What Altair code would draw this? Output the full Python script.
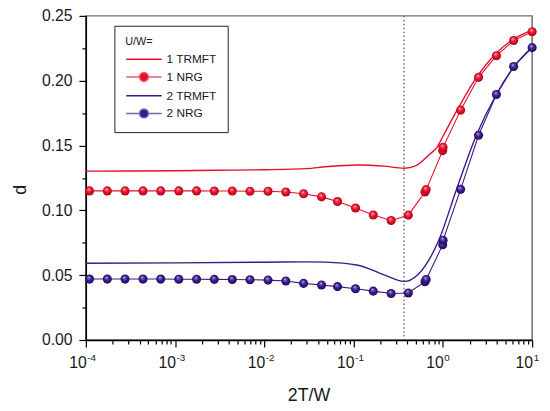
import altair as alt
import pandas as pd

# ---------------- data ----------------
series_names = ["1 TRMFT", "1 NRG", "2 TRMFT", "2 NRG"]

t_trmft_1 = [1e-4, 3e-4, 1e-3, 3e-3, 1e-2, 3e-2, 0.048, 0.112, 0.22, 0.367,
             0.50, 0.72, 0.86, 1.0, 1.48, 2.37, 3.94, 6.0, 10.0]
d_trmft_1 = [0.1303, 0.1304, 0.1306, 0.1309, 0.1313, 0.1322, 0.1336, 0.1350,
             0.1341, 0.1325, 0.1345, 0.1436, 0.1486, 0.1570, 0.1786, 0.2023,
             0.2210, 0.2315, 0.2390]

t_trmft_2 = [1e-4, 1e-3, 1e-2, 3e-2, 0.048, 0.112, 0.22, 0.367, 0.52, 0.89,
             1.42, 2.37, 3.94, 6.3, 10.0]
d_trmft_2 = [0.0592, 0.0595, 0.0600, 0.0603, 0.0601, 0.0577, 0.0502, 0.0452,
             0.0502, 0.0762, 0.1161, 0.1579, 0.1890, 0.2110, 0.2260]

t_nrg = [1.1e-4, 1.74e-4, 2.75e-4, 4.37e-4, 6.9e-4, 1.1e-3, 1.74e-3, 2.75e-3,
         4.37e-3, 6.9e-3, 1.1e-2, 1.74e-2, 2.75e-2, 4.37e-2, 6.6e-2, 0.105,
         0.166, 0.263, 0.41, 0.63, 0.65, 0.995, 1.005, 1.58, 2.51, 3.98, 6.2, 10.0]
d_nrg_1 = [0.1150, 0.1150, 0.1150, 0.1150, 0.1150, 0.1150, 0.1150, 0.1149,
           0.1149, 0.1148, 0.1147, 0.1142, 0.1128, 0.1104, 0.1068, 0.1018,
           0.0964, 0.0922, 0.0963, 0.1142, 0.1160, 0.1461, 0.1486, 0.1773,
           0.2026, 0.2193, 0.2310, 0.2378]
d_nrg_2 = [0.0470, 0.0470, 0.0470, 0.0470, 0.0470, 0.0469, 0.0469, 0.0468,
           0.0467, 0.0465, 0.0462, 0.0455, 0.0437, 0.0425, 0.0412, 0.0395,
           0.0377, 0.0359, 0.0363, 0.0450, 0.0467, 0.0735, 0.0770, 0.1162,
           0.1579, 0.1893, 0.2110, 0.2255]

vline_t = [0.367]

x_major = [1e-4, 1e-3, 1e-2, 1e-1, 1.0, 10.0]
x_base_label = "10"
x_exp_labels = ["-4", "-3", "-2", "-1", "0", "1"]
x_minor = [m * 10.0 ** k for k in range(-4, 1) for m in range(2, 10)]
y_major = [0.0, 0.05, 0.10, 0.15, 0.20, 0.25]
y_minor = [0.025, 0.075, 0.125, 0.175, 0.225]

legend_title = "U/W="
x_title = "2T/W"
y_title = "d"

# ---------------- styling ----------------
RED = "#e4102c"
RED_L = "#ee5a6a"
PUR = "#3a1a88"
PUR_L = "#7a64b4"
FONT = "Liberation Sans"

red_ball = {"gradient": "radial", "x1": 0.4, "y1": 0.3, "r1": 0.0,
            "x2": 0.5, "y2": 0.5, "r2": 0.55,
            "stops": [{"offset": 0.0, "color": "#fff0d8"},
                      {"offset": 0.2, "color": "#f86070"},
                      {"offset": 0.5, "color": "#e8142e"},
                      {"offset": 1.0, "color": "#a00018"}]}
pur_ball = {"gradient": "radial", "x1": 0.4, "y1": 0.3, "r1": 0.0,
            "x2": 0.5, "y2": 0.5, "r2": 0.55,
            "stops": [{"offset": 0.0, "color": "#e0d8f4"},
                      {"offset": 0.2, "color": "#7a62c0"},
                      {"offset": 0.5, "color": "#3c1c8c"},
                      {"offset": 1.0, "color": "#1c0a50"}]}

XS = alt.Scale(type="log", domain=[1e-4, 10], nice=False)
YS = alt.Scale(domain=[0, 0.25], nice=False, zero=False)

exp_expr = "[" + ",".join("'%s'" % s for s in x_exp_labels) + "][round(log(datum.value)/LN10)+4]"

ax_x_major = alt.Axis(orient="bottom", values=x_major, labelExpr="'%s'" % x_base_label,
                      labelAlign="right", labelOffset=0.5, labelFontSize=16, labelPadding=8,
                      labelColor="#1a1a1a", labelFlush=False, labelOverlap=False,
                      tickSize=7, tickWidth=1.2, tickColor="black",
                      domainColor="black", domainWidth=1.5, grid=False,
                      title=x_title, titleFontSize=18, titleFontWeight="normal",
                      titleColor="#1a1a1a", titleX=226, titleY=56,
                      titleAlign="center", titleBaseline="middle")
ax_x_exp = alt.Axis(orient="bottom", values=x_major, labelExpr=exp_expr,
                    labelAlign="left", labelOffset=1, labelFontSize=10,
                    labelPadding=5.5, labelColor="#1a1a1a", labelFlush=False,
                    labelOverlap=False, tickSize=7, tickOpacity=0, domain=False,
                    grid=False, title=None)
ax_x_minor = alt.Axis(orient="bottom", values=x_minor, labels=False, tickSize=4,
                      tickWidth=1.2, tickColor="black", domain=False, grid=False,
                      title=None)
ax_y_major = alt.Axis(orient="left", values=y_major, format=".2f", labelFontSize=16,
                      labelPadding=7, labelColor="#1a1a1a", labelFlush=False,
                      labelOverlap=False, tickSize=7, tickWidth=1.2, tickColor="black",
                      domainColor="black", domainWidth=1.5, grid=False,
                      title=y_title, titleFontSize=18, titleFontWeight="normal",
                      titleColor="#1a1a1a", titleAngle=270, titleX=-66, titleY=176,
                      titleAlign="center", titleBaseline="middle")
ax_y_minor = alt.Axis(orient="left", values=y_minor, labels=False, tickSize=4,
                      tickWidth=1.2, tickColor="black", domain=False, grid=False,
                      title=None)

# ---------------- tables ----------------
df_tr1 = pd.DataFrame({"T": t_trmft_1, "d": d_trmft_1, "i": range(len(t_trmft_1))})
df_tr2 = pd.DataFrame({"T": t_trmft_2, "d": d_trmft_2, "i": range(len(t_trmft_2))})
df_n1 = pd.DataFrame({"T": t_nrg, "d": d_nrg_1, "i": range(len(t_nrg))})
df_n2 = pd.DataFrame({"T": t_nrg, "d": d_nrg_2, "i": range(len(t_nrg))})
df_v = pd.DataFrame({"T": vline_t})

rule = alt.Chart(df_v).mark_rule(stroke="#555555", strokeDash=[1.5, 2.5], strokeWidth=1.3).encode(
    x=alt.X("T:Q", scale=XS, axis=ax_x_exp))

tr1 = alt.Chart(df_tr1).mark_line(color=RED, strokeWidth=1.4, interpolate="monotone").encode(
    x=alt.X("T:Q", scale=XS, axis=ax_x_major),
    y=alt.Y("d:Q", scale=YS, axis=ax_y_major),
    order="i:Q")
tr2 = alt.Chart(df_tr2).mark_line(color=PUR, strokeWidth=1.4, interpolate="monotone").encode(
    x=alt.X("T:Q", scale=XS, axis=ax_x_minor),
    y=alt.Y("d:Q", scale=YS, axis=ax_y_minor),
    order="i:Q")


def nrg_layers(df, col, ball):
    ln = alt.Chart(df).mark_line(color=col, strokeWidth=1.1).encode(
        x=alt.X("T:Q", scale=XS, axis=None),
        y=alt.Y("d:Q", scale=YS, axis=None),
        order="i:Q")
    pt = alt.Chart(df).mark_point(filled=True, shape="circle", size=85, opacity=1,
                                  fill=ball, strokeWidth=0).encode(
        x=alt.X("T:Q", scale=XS, axis=None),
        y=alt.Y("d:Q", scale=YS, axis=None))
    return ln, pt


n1_line, n1_pts = nrg_layers(df_n1, RED, red_ball)
n2_line, n2_pts = nrg_layers(df_n2, PUR, pur_ball)

# legend helper (points placed below the clipped plot area, only the legend shows)
shape_paths = [
    "M-1,0L5,0",
    "M-1,0L1.25,0M2.75,0L5,0M1.25,0A0.75,0.75,0,1,1,2.75,0A0.75,0.75,0,1,1,1.25,0Z",
    "M-1,0L5,0",
    "M-1,0L1.25,0M2.75,0L5,0M1.25,0A0.75,0.75,0,1,1,2.75,0A0.75,0.75,0,1,1,1.25,0Z",
]
fill_cols = [RED, RED, PUR, PUR]
stroke_cols = [RED, RED_L, PUR, PUR_L]
LEG = alt.Legend(title="\u00a0\u00a0\u00a0" + legend_title, orient="none", legendX=29, legendY=10,
                 padding=11, strokeColor="#222222", fillColor="white",
                 titleFontSize=11, titleFontWeight="normal", titlePadding=5,
                 titleColor="#1a1a1a", labelFontSize=12, labelColor="#1a1a1a",
                 labelOffset=28, symbolSize=144, symbolStrokeWidth=1.5,
                 rowPadding=4, symbolOpacity=1)
df_leg = pd.DataFrame({"series": series_names, "T": [1.0] * 4, "d": [-1.0] * 4})
leg = alt.Chart(df_leg).mark_point(filled=True, size=144, opacity=1, clip=True).encode(
    x=alt.X("T:Q", scale=XS, axis=None),
    y=alt.Y("d:Q", scale=YS, axis=None),
    shape=alt.Shape("series:N", scale=alt.Scale(domain=series_names, range=shape_paths),
                    legend=LEG, sort=series_names),
    fill=alt.Fill("series:N", scale=alt.Scale(domain=series_names, range=fill_cols),
                  legend=LEG, sort=series_names),
    stroke=alt.Stroke("series:N", scale=alt.Scale(domain=series_names, range=stroke_cols),
                      legend=LEG, sort=series_names),
)

chart = alt.layer(rule, tr1, tr2, n2_line, n1_line, n2_pts, n1_pts, leg).resolve_axis(
    x="independent", y="independent"
).properties(
    width=453, height=329,
    autosize=alt.AutoSizeParams(type="none"),
    padding={"left": 79, "top": 5, "right": 10, "bottom": 66},
).configure(font=FONT).configure_view(stroke="#6e6e6e", strokeWidth=1.5)

chart.save("out.html", embed_options={"renderer": "svg", "actions": False})
